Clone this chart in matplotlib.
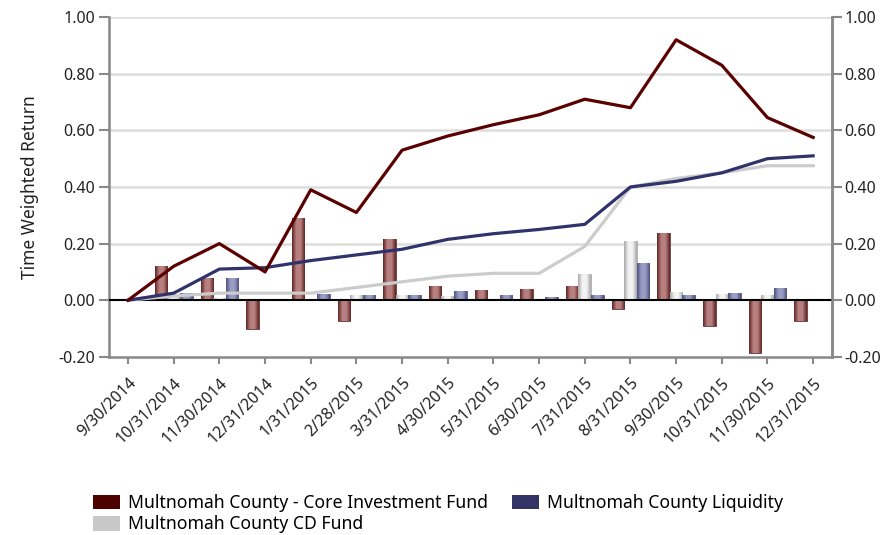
import numpy as np
import matplotlib
matplotlib.use("Agg")
import matplotlib.pyplot as plt
from matplotlib.colors import LinearSegmentedColormap
from matplotlib.patches import Patch

plt.rcParams['font.family'] = ['Noto Sans', 'DejaVu Sans']

# Data
dates = ["9/30/2014", "10/31/2014", "11/30/2014", "12/31/2014", "1/31/2015",
         "2/28/2015", "3/31/2015", "4/30/2015", "5/31/2015", "6/30/2015",
         "7/31/2015", "8/31/2015", "9/30/2015", "10/31/2015", "11/30/2015",
         "12/31/2015"]

# cumulative (lines)
core_cum = [0.0, 0.12, 0.20, 0.10, 0.39, 0.31, 0.53, 0.58, 0.62, 0.655,
            0.71, 0.68, 0.92, 0.83, 0.645, 0.575]
liq_cum = [0.0, 0.025, 0.11, 0.115, 0.14, 0.16, 0.18, 0.215, 0.235, 0.25,
           0.268, 0.40, 0.42, 0.45, 0.50, 0.51]
cd_cum = [0.0, 0.015, 0.025, 0.025, 0.025, 0.045, 0.065, 0.085, 0.095, 0.095,
          0.19, 0.40, 0.43, 0.45, 0.475, 0.475]

# monthly (bars), first date has none
core_m = [np.nan, 0.12, 0.077, -0.103, 0.29, -0.074, 0.215, 0.05, 0.035, 0.038,
          0.052, -0.031, 0.236, -0.09, -0.188, -0.073]
cd_m = [np.nan, 0.018, 0.008, 0.0, 0.0, 0.018, 0.02, 0.015, 0.006, 0.0,
        0.094, 0.21, 0.028, 0.021, 0.02, 0.0]
liq_m = [np.nan, 0.027, 0.078, 0.005, 0.023, 0.018, 0.017, 0.033, 0.02, 0.01,
         0.018, 0.13, 0.02, 0.027, 0.044, 0.006]

names = ["Multnomah County - Core Investment Fund",
         "Multnomah County CD Fund",
         "Multnomah County Liquidity"]

fig = plt.figure(figsize=(8.9, 5.35), dpi=100)
ax = fig.add_axes([0.1225, 0.333, 0.8125, 0.635])

x = np.arange(len(dates))
w = 0.275

def gradient_bars(bars, edge, mid):
    cmap = LinearSegmentedColormap.from_list("g", [edge, mid, mid, edge])
    grad = np.linspace(0, 1, 64).reshape(1, -1)
    for b in bars:
        h = b.get_height()
        if np.isnan(h) or h == 0:
            continue
        x0, y0 = b.get_x(), b.get_y()
        im = ax.imshow(grad, cmap=cmap, aspect='auto', zorder=2,
                       extent=[x0, x0 + b.get_width(), y0, y0 + h],
                       interpolation='bicubic')
        im.set_clip_path(b)

b1 = ax.bar(x - w, core_m, w, color='none', edgecolor='#5a2a2a', linewidth=0.6, zorder=2)
b2 = ax.bar(x, cd_m, w, color='none', edgecolor='#a8a8a8', linewidth=0.6, zorder=2)
b3 = ax.bar(x + w, liq_m, w, color='none', edgecolor='#4a4d78', linewidth=0.6, zorder=2)
gradient_bars(b1, '#5e2222', '#b88080')
gradient_bars(b2, '#a6a6a6', '#f4f4f4')
gradient_bars(b3, '#4c5080', '#9a9dc4')

ax.axhline(0, color='black', linewidth=1.5, zorder=3)

ax.plot(x, cd_cum, color='#cccccc', linewidth=2.3, zorder=4)
ax.plot(x, liq_cum, color='#30336b', linewidth=2.3, zorder=5)
ax.plot(x, core_cum, color='#5a0000', linewidth=2.3, zorder=6)

ax.set_xlim(-0.416, len(dates) - 1 + 0.416)
ax.set_ylim(-0.2, 1.0)
yt = np.arange(-0.2, 1.01, 0.2)
ax.set_yticks(yt)
ax.set_yticklabels([f"{v:.2f}" for v in yt])
for v in yt[2:]:
    ax.axhline(v, color='#dddddd', linewidth=1.8, zorder=0)

ax.set_xticks(x)
ax.set_xticklabels(dates, rotation=45, ha='right', rotation_mode='anchor')
ax.tick_params(axis='x', length=5, width=1.5, color='#888888', labelsize=11.5,
               labelcolor='#222222', pad=8)
ax.tick_params(axis='y', length=7, width=1.5, color='#888888', labelsize=11.5,
               labelcolor='#222222', pad=3)

for s in ['top']:
    ax.spines[s].set_visible(False)
for s in ['left', 'right', 'bottom']:
    ax.spines[s].set_color('#888888')
    ax.spines[s].set_linewidth(1.8)

ax.set_ylabel("Time Weighted Return", fontsize=12.5, color='#222222', labelpad=14)

ax2 = ax.twinx()
ax2.set_ylim(ax.get_ylim())
ax2.set_yticks(yt)
ax2.set_yticklabels([f"{v:.2f}" for v in yt])
ax2.tick_params(axis='y', length=7, width=1.5, color='#888888', labelsize=11.5,
                labelcolor='#222222', pad=2)
for s in ['top', 'left', 'bottom']:
    ax2.spines[s].set_visible(False)
ax2.spines['right'].set_color('#888888')
ax2.spines['right'].set_linewidth(1.8)

handles = [Patch(facecolor='#4d0000', label=names[0]),
           Patch(facecolor='#c8c8c8', label=names[1]),
           Patch(facecolor='#333366', label=names[2])]
fig.legend(handles=handles, ncol=2, loc='upper left',
           bbox_to_anchor=(0.097, 0.09), frameon=False, fontsize=12.7,
           handlelength=1.5, handleheight=0.9, handletextpad=0.45,
           columnspacing=1.4, labelspacing=0.2, borderaxespad=0)

fig.savefig("out.png", dpi=100)
